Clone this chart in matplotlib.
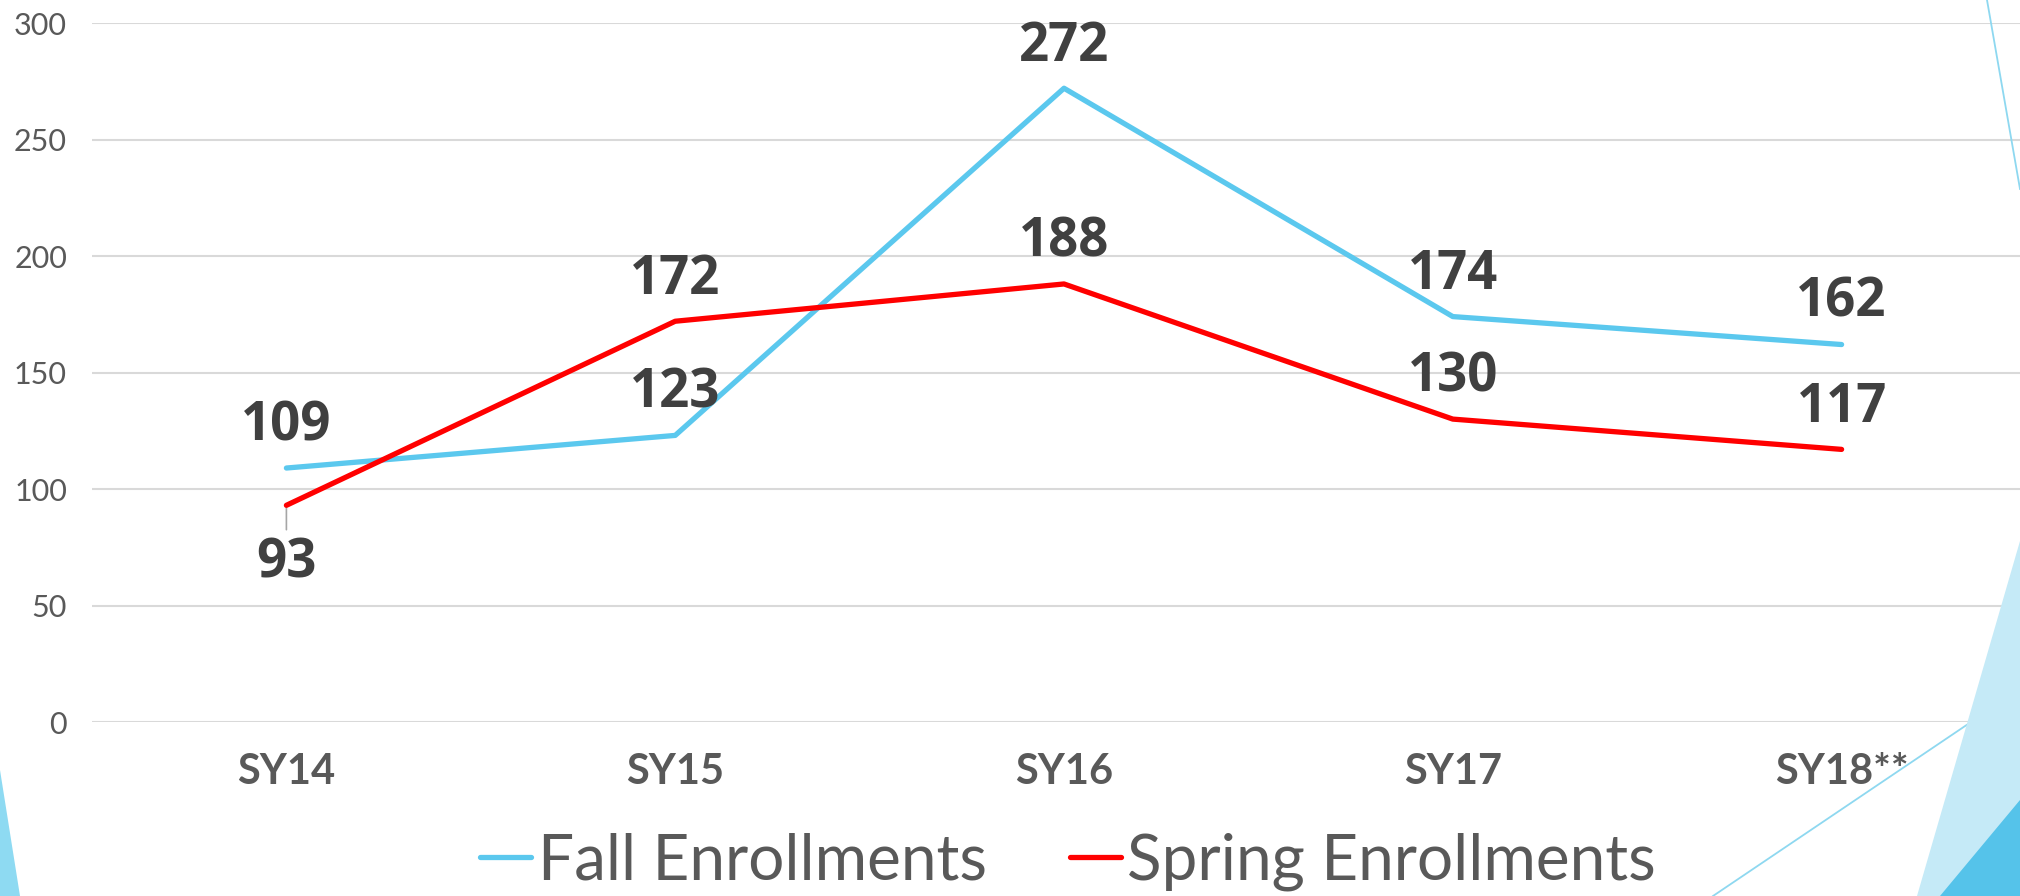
import numpy as np
import matplotlib
matplotlib.use("Agg")
import matplotlib.pyplot as plt
from matplotlib.patches import Polygon
from matplotlib.lines import Line2D

# data
years = ["SY14", "SY15", "SY16", "SY17", "SY18**"]
fall = [109, 123, 272, 174, 162]
spring = [93, 172, 188, 130, 117]
fall_label_pos = ["above", "above", "above", "above", "above"]
spring_label_pos = ["below", "above", "above", "above", "above"]
y_ticks = [0, 50, 100, 150, 200, 250, 300]

FALL_C = "#5BC8EE"
SPRING_C = "#FF0000"
TICK_C = "#595959"
LABEL_C = "#404040"

plt.rcParams['font.family'] = ['Lato', 'DejaVu Sans']

W, H = 2020, 896
fig = plt.figure(figsize=(W / 100, H / 100), dpi=100)

# slide decoration (facet theme), in pixel coords of the slide
def px(pts):
    return [(x / W, 1 - y / H) for x, y in pts]

fig.patches.append(Polygon(px([(1917, 896), (2020, 541), (2020, 896)]), closed=True,
                           transform=fig.transFigure, facecolor="#C5EAF7", edgecolor="none", zorder=0))
fig.patches.append(Polygon(px([(1940, 896), (2020, 800), (2020, 896)]), closed=True,
                           transform=fig.transFigure, facecolor="#55C3EA", edgecolor="none", zorder=0))
fig.patches.append(Polygon(px([(0, 770), (20, 896), (0, 896)]), closed=True,
                           transform=fig.transFigure, facecolor="#8EDAF2", edgecolor="none", zorder=0))
for (x0, y0), (x1, y1) in [((1987, 0), (2020, 189)), ((1713, 896), (2020, 689))]:
    fig.lines.append(Line2D([x0 / W, x1 / W], [1 - y0 / H, 1 - y1 / H], transform=fig.transFigure,
                            color="#8ED8F0", lw=1.3, zorder=0))

ax = fig.add_axes([92 / W, 1 - 722 / H, (2036 - 92) / W, (722 - 23) / H])
ax.set_facecolor("none")
x = np.arange(len(years))

ax.plot(x, fall, color=FALL_C, lw=3.8, solid_capstyle="round", label="Fall Enrollments", zorder=3)
ax.plot(x, spring, color=SPRING_C, lw=3.8, solid_capstyle="round", label="Spring Enrollments", zorder=4)

def put_labels(vals, where):
    for i, v in enumerate(vals):
        if where[i] == "above":
            ax.annotate(str(v), (i, v), xytext=(0, 30), textcoords="offset points",
                        ha="center", va="center", fontsize=38, fontweight="bold",
                        color=LABEL_C, family=['Open Sans', 'DejaVu Sans'])
        else:
            ax.annotate(str(v), (i, v), xytext=(0, -42), textcoords="offset points",
                        ha="center", va="center", fontsize=38, fontweight="bold",
                        color=LABEL_C, family=['Open Sans', 'DejaVu Sans'],
                        arrowprops=dict(arrowstyle="-", color="#A6A6A6", lw=1.2,
                                        relpos=(0.5, 1.0), shrinkA=3, shrinkB=0))

put_labels(fall, fall_label_pos)
put_labels(spring, spring_label_pos)

ax.set_xlim(-0.5, len(years) - 0.5)
ax.set_ylim(0, 300)
ax.set_yticks(y_ticks)
ax.set_xticks(x)
ax.set_xticklabels(years, fontsize=30, fontweight="bold", color=TICK_C)
ax.tick_params(axis="y", labelsize=22, labelcolor=TICK_C, length=0, pad=18)
ax.tick_params(axis="x", length=0, pad=22)
ax.grid(axis="y", color="#D9D9D9", lw=1.5)
ax.set_axisbelow(True)
for s in ax.spines.values():
    s.set_visible(False)

ax.legend(loc="center", bbox_to_anchor=(1068 / W, 1 - 862 / H), bbox_transform=fig.transFigure,
          ncol=2, frameon=False, fontsize=46, handlelength=0.8, handletextpad=0.1,
          columnspacing=1.3, borderpad=0, labelcolor=TICK_C)

fig.savefig("out.png", dpi=100)
